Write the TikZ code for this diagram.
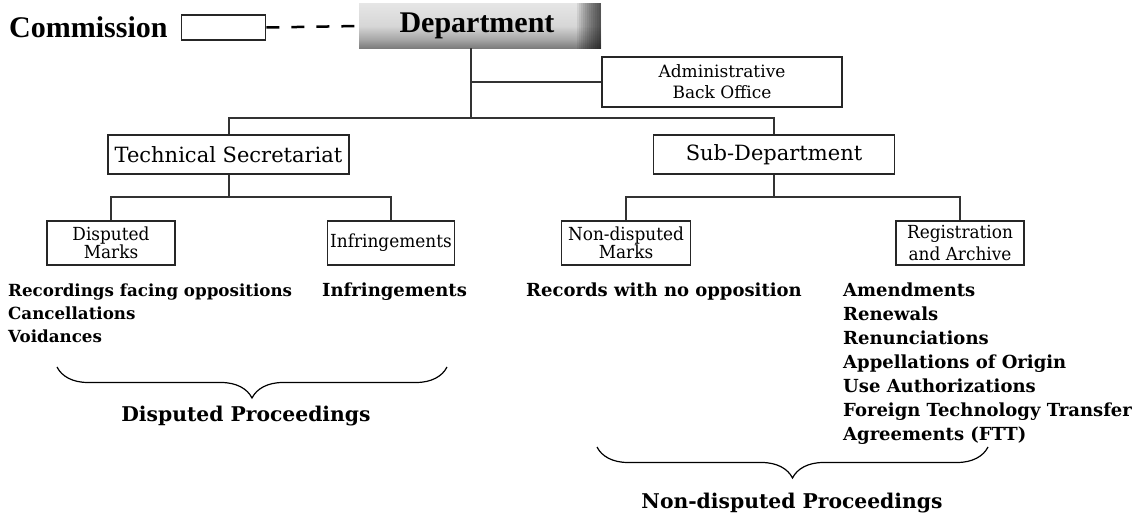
\documentclass[tikz,border=0pt]{standalone}
\usepackage{fontspec}
\setmainfont{DejaVu Serif}
\newfontfamily\libser{Liberation Serif}
\newfontfamily\dvmid{DejaVu Serif}[FakeStretch=0.94]
\usetikzlibrary{decorations.pathreplacing}
\pgfdeclareverticalshading{deptshade}{100bp}{color(0bp)=(black!85); color(15bp)=(black!70); color(35bp)=(black!35); color(50bp)=(black!16); color(75bp)=(black!10); color(100bp)=(black!6)}
\begin{document}
\begin{tikzpicture}[x=1pt,y=-1pt,
  conn/.style={draw=black!80, line width=2pt},
  box/.style={draw=black!85, line width=1.6pt, fill=white, inner sep=0pt, align=center},
  big/.style={font=\fontsize{21}{24}\selectfont},
  small/.style={font=\fontsize{17}{21}\selectfont},
  smallc/.style={font=\dvmid\fontsize{18}{14}\selectfont},
  lst/.style={font=\bfseries\fontsize{16.7}{20}\selectfont, anchor=base west, inner sep=0pt},
  lstb/.style={font=\bfseries\fontsize{18}{20}\selectfont, anchor=base west, inner sep=0pt},
  proc/.style={font=\bfseries\fontsize{20.3}{24}\selectfont, anchor=base, inner sep=0pt},
  title/.style={font=\libser\bfseries\fontsize{30}{32}\selectfont, inner sep=0pt},
  deptbox/.style={title, minimum width=242pt, minimum height=45pt, shade, shading=deptshade},
  brc/.style={draw=black, line width=1.2pt, decorate, decoration={brace, mirror, amplitude=31pt, aspect=0.5}}
]
\useasboundingbox (0,0) rectangle (1136,518);

% top row
\node[title, anchor=west] (commlbl) at (9,27) {Commission};
\node[box, minimum width=84pt, minimum height=25pt] (comm) at (223.5,27.5) {};
\node[deptbox] (dept) at (480,26) {};
\foreach \i in {0,...,11} {
  \pgfmathsetmacro{\dx}{-24+2*\i}
  \fill[black, opacity=0.075] ([xshift=\dx pt]dept.north east) rectangle (dept.south east);
}
\node[title, anchor=base] (depttxt) at (477,33) {Department};
\draw[line width=2.5pt, dash pattern=on 13pt off 12pt] (comm.east) -- (dept.west);

% admin
\node[box, small, minimum width=240pt, minimum height=50pt] (admin) at (722,82) {Administrative\\Back Office};

% second row
\node[box, big, minimum width=241pt, minimum height=39pt] (tech) at (228.5,154.5) {Technical Secretariat};
\node[box, big, minimum width=241pt, minimum height=39pt] (sub) at (774,154.5) {Sub-Department};

% third row
\node[box, smallc, minimum width=128pt, minimum height=44pt] (disp) at (111,243) {Disputed\\Marks};
\node[box, smallc, minimum width=127pt, minimum height=44pt] (infb) at (391,243) {Infringements};
\node[box, smallc, minimum width=129pt, minimum height=44pt] (ndisp) at (626,243) {Non-disputed\\Marks};
\node[box, smallc, minimum width=128pt, minimum height=44pt, font=\dvmid\fontsize{18}{22}\selectfont] (reg) at (960,243) {Registration\\and Archive};

% connectors
\coordinate (d0) at (471,48.5);
\coordinate (bar1) at (471,118.5);
\coordinate (bar2) at (471,197);
\draw[conn] (d0) -- (bar1);
\draw[conn] (d0 |- admin.west) -- (admin.west);
\draw[conn] (tech.north) -- (tech.north |- bar1) -- (sub.north |- bar1) -- (sub.north);
\draw[conn] (tech.south) -- (tech.south |- bar2);
\draw[conn] (disp.north) -- (disp.north |- bar2) -- (infb.north |- bar2) -- (infb.north);
\draw[conn] (sub.south) -- (sub.south |- bar2);
\draw[conn] (ndisp.north) -- (ndisp.north |- bar2) -- (reg.north |- bar2) -- (reg.north);

% lists
\node[lst] (r1) at (8,297) {Recordings facing oppositions};
\node[lst] (r2) at (8,320) {Cancellations};
\node[lst] (r3) at (8,343) {Voidances};
\node[lstb] (i1) at (322,297) {Infringements};
\node[lstb] (n1) at (526,297) {Records with no opposition};
\node[lstb] (a1) at (843,297) {Amendments};
\node[lstb] (a2) at (843,321) {Renewals};
\node[lstb] (a3) at (843,345) {Renunciations};
\node[lstb] (a4) at (843,369) {Appellations of Origin};
\node[lstb] (a5) at (843,393) {Use Authorizations};
\node[lstb] (a6) at (843,417) {Foreign Technology Transfer};
\node[lstb] (a7) at (843,441) {Agreements (FTT)};

% braces
\coordinate (b1l) at (57,367);
\coordinate (b1r) at (447,367);
\coordinate (b2l) at (597,447);
\coordinate (b2r) at (988,447);
\draw[brc] (b1l) -- (b1r);
\draw[brc] (b2l) -- (b2r);
\node[proc] (dp) at (246,422) {Disputed Proceedings};
\node[proc] (ndp) at (792,508) {Non-disputed Proceedings};
\end{tikzpicture}
\end{document}
